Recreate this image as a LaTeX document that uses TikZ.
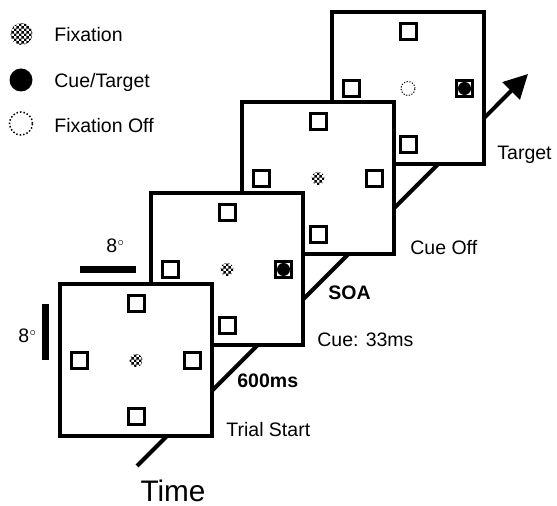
\documentclass[tikz,border=0pt]{standalone}
\usepackage{fontspec}
\setmainfont{Liberation Sans}
\usetikzlibrary{arrows.meta,patterns.meta}

% fine checker for the fixation point
\tikzdeclarepattern{
  name=fixChecker,
  type=uncolored,
  bottom left={(0pt,0pt)},
  top right={(2.4pt,2.4pt)},
  tile size={(2.4pt,2.4pt)},
  code={
    \pgfpathrectangle{\pgfpoint{0pt}{0pt}}{\pgfpoint{1.2pt}{1.2pt}}
    \pgfpathrectangle{\pgfpoint{1.2pt}{1.2pt}}{\pgfpoint{1.2pt}{1.2pt}}
    \pgfusepath{fill}
  }
}

\begin{document}
\begin{tikzpicture}[x=0.5pt, y=-0.5pt, line join=miter]

% ---------------- styles ----------------
\tikzset{
  frameBox/.style ={rectangle, draw, fill=white, line width=2pt, minimum size=76pt, inner sep=0pt},
  placeBox/.style ={rectangle, draw, fill=white, line width=1.5pt, minimum size=8pt, inner sep=0pt},
  fixDot/.style   ={circle, inner sep=0pt, minimum size=6.5pt, pattern={fixChecker}, pattern color=black},
  cueDot/.style   ={circle, fill=black, inner sep=0pt, minimum size=6.5pt},
  offDot/.style   ={circle, draw, line width=0.5pt, dash pattern=on 0.6pt off 0.8pt, inner sep=0pt, minimum size=7pt},
  lbl/.style      ={inner sep=0pt, anchor=base west, font=\fontsize{9.75}{11}\selectfont},
  lblBold/.style  ={lbl, font=\fontsize{9.75}{11}\selectfont\bfseries},
  degBar/.style   ={line width=3.5pt},
  timeAxis/.style ={line width=2pt, -{Triangle[length=12pt, width=12pt]}}
}

% ---------------- parameters ----------------
\def\Off{56.5}   % place holder offset from display centre

% helper: one display with four place holders
\newcommand{\Display}[4]{%
  \node[frameBox] (#1) at (#2,#3) {};
  \node[placeBox] (#1N) at (#2,#3-\Off) {};
  \node[placeBox] (#1S) at (#2,#3+\Off) {};
  \node[placeBox] (#1W) at (#2-\Off,#3) {};
  \node[placeBox] (#1E) at (#2+\Off,#3) {};
  #4
}

\useasboundingbox (0,0) rectangle (557,506);

% ---------------- time axis (behind displays) ----------------
\coordinate (tStart) at (137,466);
\coordinate (tEnd)   at (528,74);
\draw[timeAxis] (tStart) -- (tEnd);

% ---------------- displays, back to front ----------------
\Display{dTarget}{408}{88.5}{%
  \node[offDot] (dTargetC) at (dTarget) {};
  \node[cueDot] (dTargetT) at (dTargetE) {};}
\Display{dOff}{318}{178.5}{%
  \node[fixDot] (dOffC) at (dOff) {};}
\Display{dCue}{227}{269.5}{%
  \node[fixDot] (dCueC) at (dCue) {};
  \node[cueDot] (dCueT) at (dCueE) {};}
\Display{dStart}{136}{360.5}{%
  \node[fixDot] (dStartC) at (dStart) {};}

% ---------------- legend ----------------
\node[fixDot, minimum size=11pt] (legFix) at (21.5,34) {};
\node[cueDot, minimum size=11.5pt] (legCue) at (21,80) {};
\node[offDot, minimum size=11.5pt, line width=0.75pt, dash pattern=on 0.75pt off 1pt] (legOff) at (21,123.5) {};
\node[lbl] (legFixTxt) at (54,42)   {Fixation};
\node[lbl] (legCueTxt) at (54,87.5) {Cue/Target};
\node[lbl] (legOffTxt) at (54,132.5){Fixation Off};

% ---------------- 8 deg scale bars ----------------
\coordinate (hBarL) at (80,270);
\coordinate (hBarR) at (136,270);
\coordinate (vBarT) at (45.5,304);
\coordinate (vBarB) at (45.5,360);
\draw[degBar] (hBarL) -- (hBarR);
\draw[degBar] (vBarT) -- (vBarB);
\node[lbl] (hBarTxt) at (106,253) {8$^{\scriptscriptstyle\circ}$};
\node[lbl] (vBarTxt) at (18,343)  {8$^{\scriptscriptstyle\circ}$};

% ---------------- event labels ----------------
\node[lbl]     (lStart)  at (226,437) {Trial Start};
\node[lblBold] (lDelay)  at (237,388) {600ms};
\node[lbl]     (lCue)    at (317,347) {Cue: 33ms};
\node[lblBold] (lSoa)    at (328,300) {SOA};
\node[lbl]     (lCueOff) at (410,255) {Cue Off};
\node[lbl]     (lTarget) at (497,160) {Target};
\node[inner sep=0pt, anchor=base, font=\fontsize{14.85}{16}\selectfont] (lTime) at (173,502) {Time};

\end{tikzpicture}
\end{document}
